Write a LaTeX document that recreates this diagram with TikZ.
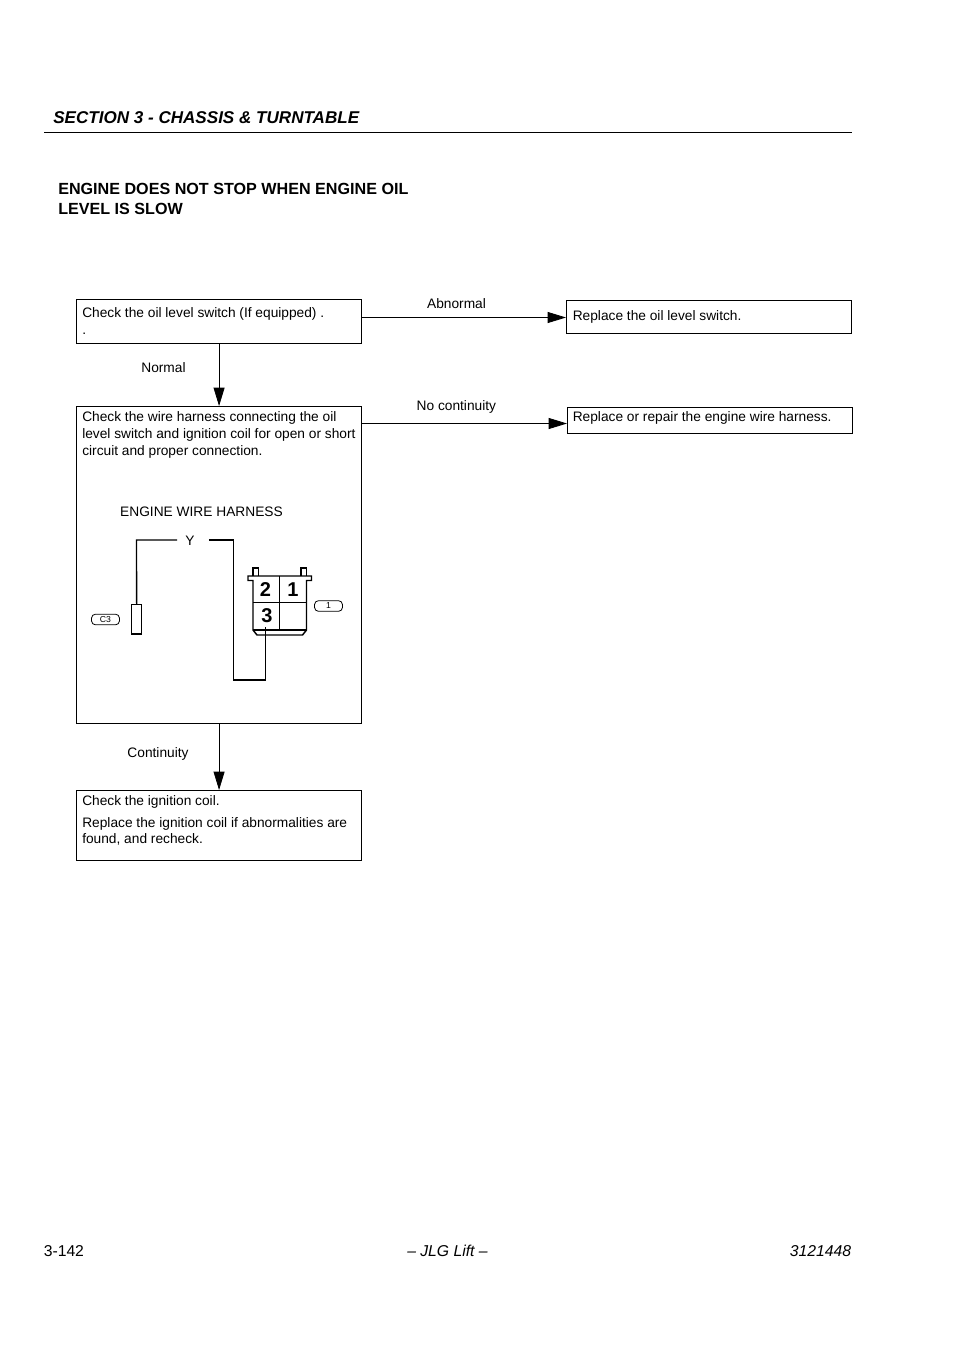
\documentclass[tikz,border=0pt]{standalone}
\usepackage{fontspec}
\setmainfont{Liberation Sans}
\usepackage{xcolor}
\usetikzlibrary{arrows.meta, positioning}

\begin{document}
\begin{tikzpicture}[
    x=0.75pt, y=-0.75pt,
    chkbox/.style={
      rectangle, draw=black, fill=white, line width=0.6pt, inner sep=0pt,
      anchor=north west, minimum width=214pt
    },
    boxtext/.style={
      anchor=north west, inner sep=0pt, align=left,
      font=\fontsize{10.3}{12.7}\selectfont
    },
    flowlabel/.style={inner sep=0pt, font=\fontsize{10.3}{12.7}\selectfont},
    rel/.style={-{Triangle[length=13.7pt, width=8.2pt]}, line width=0.6pt},
    wire/.style={line width=1.2pt},
    pinnum/.style={inner sep=0pt, font=\fontsize{15}{15}\selectfont\bfseries},
    callout/.style={
      draw=black, line width=0.6pt, rounded corners=3pt, inner sep=0pt,
      minimum width=21pt, minimum height=8pt, font=\fontsize{6.5}{7}\selectfont
    }
  ]
    \useasboundingbox (0,0) rectangle (954,1350);

    % page header
    \node[anchor=west, inner sep=0pt, font=\fontsize{12.8}{15}\selectfont\bfseries\itshape] (section) at (53,118) {SECTION 3 - CHASSIS \& TURNTABLE};
    \coordinate (ruleleft) at (44,132.5);
    \coordinate (ruleright) at (852,132.5);
    \draw[line width=0.6pt] (ruleleft) -- (ruleright);
    \node[anchor=north west, inner sep=0pt, align=left, font=\fontsize{12.1}{15}\selectfont\bfseries] (title) at (58,183) {ENGINE DOES NOT STOP WHEN ENGINE OIL\\LEVEL IS SLOW};

    % boxes
    \node[chkbox, minimum height=32.8pt] (oil) at (76,299) {};
    \node[chkbox, minimum height=24.75pt] (switch) at (566,299.8) {};
    \node[chkbox, minimum height=237.75pt] (harness) at (76,406) {};
    \node[chkbox, minimum height=19.5pt] (repair) at (567,407) {};
    \node[chkbox, minimum height=52.5pt] (coil) at (76,790) {};

    \node[boxtext] (oiltxt) at (82,307) {Check the oil level switch (If equipped) .\\.};
    \node[boxtext] (switchtxt) at (572.5,310) {Replace the oil level switch.};
    \node[boxtext] (harnesstxt) at (82,411) {Check the wire harness connecting the oil\\level switch and ignition coil for open or short\\circuit and proper connection.};
    \node[boxtext] (repairtxt) at (572.5,411) {Replace or repair the engine wire harness.};
    \node[boxtext] (coiltxt) at (82,795) {Check the ignition coil.\\[4pt]Replace the ignition coil if abnormalities are\\[-0.7pt]found, and recheck.};

    % connectors
    \coordinate (abnorm) at (566,317.5);
    \coordinate (nocont) at (567,423.5);
    \draw[rel] (oil.east |- abnorm) -- node[flowlabel, pos=0.463, above=6pt] (abnormal) {Abnormal} (abnorm);
    \draw[rel] (harness.east |- nocont) -- node[flowlabel, pos=0.46, above=7.5pt] (nocontlabel) {No continuity} (nocont);
    \draw[rel] (oil.south) -- (harness.north);
    \draw[rel] (harness.south) -- (coil.north);
    \node[flowlabel] (normal) at (163.5,368) {Normal};
    \node[flowlabel] (continuity) at (158,753.5) {Continuity};

    % wiring sketch
    \node[flowlabel] (wirename) at (201.5,512) {ENGINE WIRE HARNESS};
    \node[flowlabel] (ycolor) at (190,541) {Y};
    \node[draw=black, line width=1pt, fill=white, anchor=north west, inner sep=0pt, minimum width=7.5pt, minimum height=22pt] (sensor) at (131,604) {};
    \node[callout] (c3) at (105.5,619.5) {C3};
    \node[callout] (one) at (328.5,606) {1};
    \coordinate (wiretop) at (136.5,540);
    \coordinate (wirecorner) at (233.5,540);
    \coordinate (wirebottom) at (233.5,680);
    \coordinate (wireend) at (265.5,680);
    \coordinate (pinthree) at (265.5,627);
    \draw[line width=1pt] (ycolor.west) ++(-8,-1) -- (wiretop) -- (sensor.north);
    \draw[wire] (ycolor.east) ++(14,-1) -- (wirecorner) -- (wirebottom) -- (wireend) -- (pinthree);

    % connector housing
    \draw[line width=1pt] (253,576) -- (253,568) -- (258.5,568) -- (258.5,576);
    \draw[line width=1pt] (301,576) -- (301,568) -- (306.5,568) -- (306.5,576);
    \draw[line width=1.1pt] (253,580.5) -- (248,580.5) -- (248,576) -- (311.5,576) -- (311.5,580.5) -- (306.5,580.5)
      -- (306.5,630) -- (302.5,635) -- (257,635) -- (253,630) -- cycle;
    \draw[line width=0.5pt] (279.5,576) -- (279.5,630);
    \draw[line width=0.5pt] (253,602.5) -- (306.5,602.5);
    \draw[line width=0.8pt] (253,630) -- (306.5,630);
    \node[pinnum] (pintwo) at (265.5,589.5) {2};
    \node[pinnum] (pinone) at (293,589.5) {1};
    \node[pinnum, fill=white, inner sep=0.5pt] (pinthr) at (267,616) {3};

    % page footer
    \node[anchor=west, inner sep=0pt, font=\fontsize{11.8}{13}\selectfont] (pageno) at (43.5,1251) {3-142};
    \node[inner sep=0pt, font=\fontsize{11.8}{13}\selectfont\itshape] (brand) at (447.5,1251) {– JLG Lift –};
    \node[anchor=east, inner sep=0pt, font=\fontsize{11.8}{13}\selectfont\itshape] (docno) at (851.5,1251) {3121448};
  \end{tikzpicture}
\end{document}
